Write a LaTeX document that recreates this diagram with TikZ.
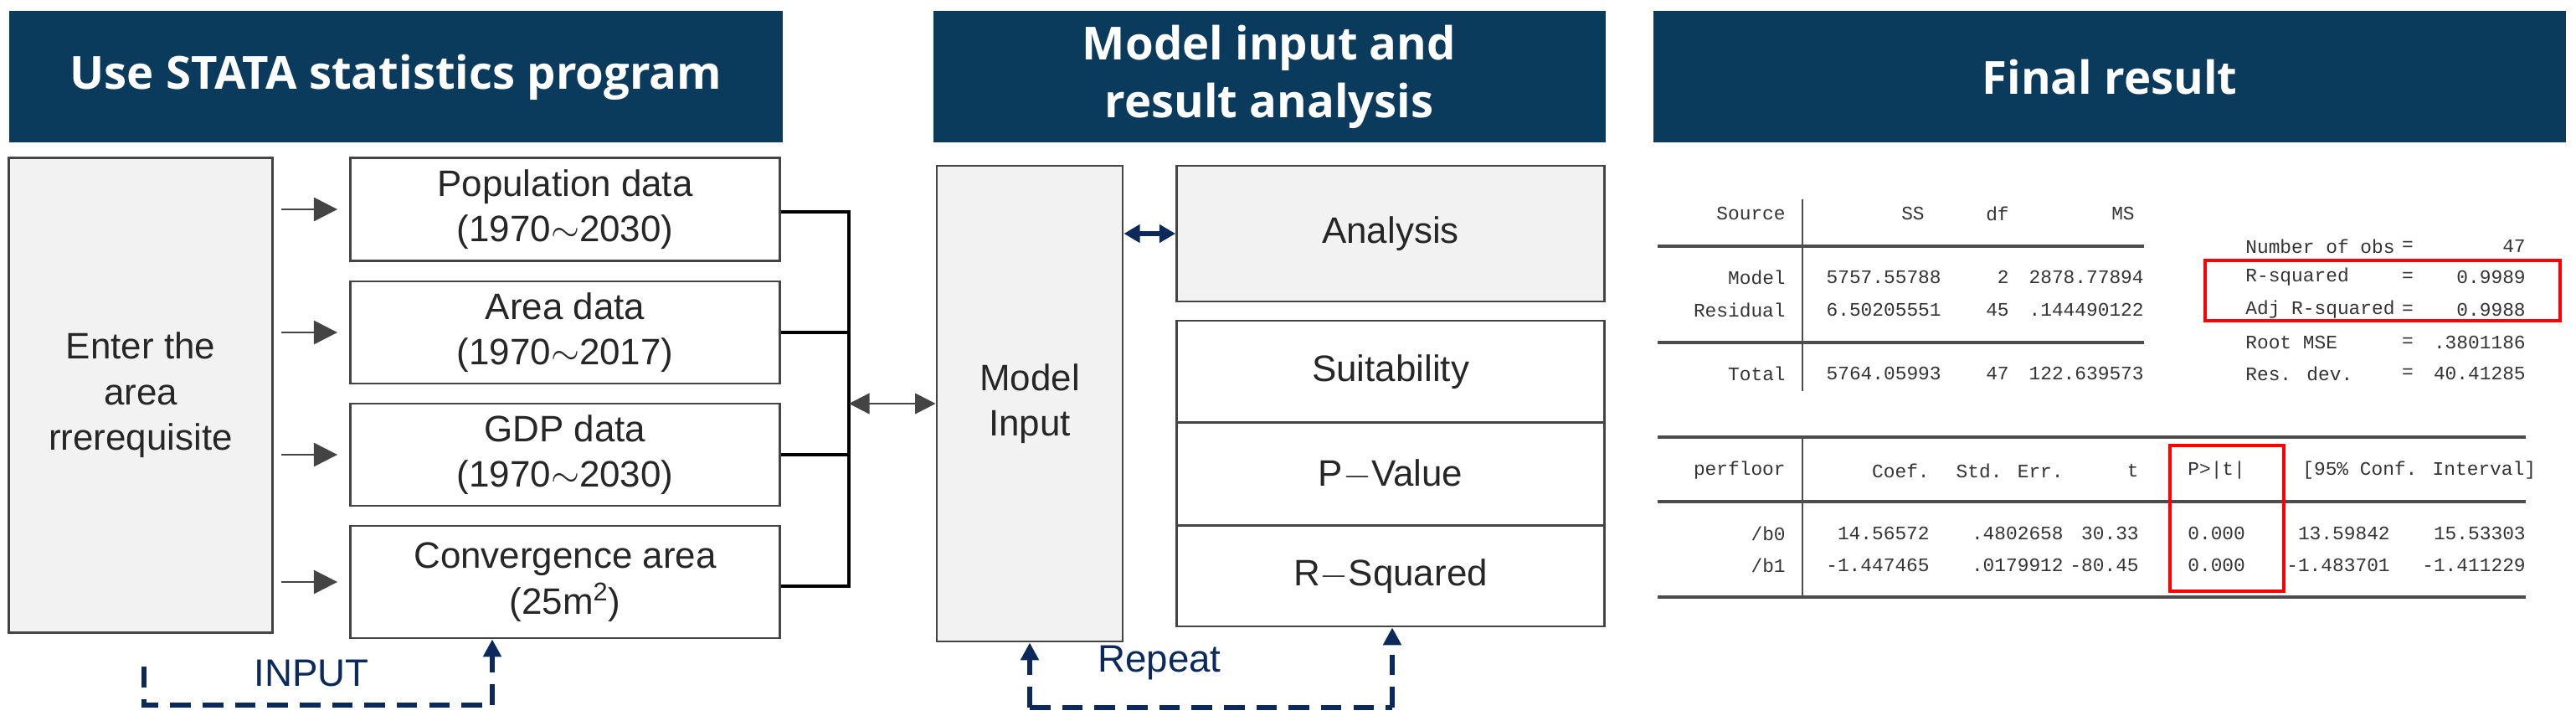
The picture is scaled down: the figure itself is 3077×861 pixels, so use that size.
\documentclass[tikz,border=0pt]{standalone}
\usepackage{fontspec}
\setmainfont{Liberation Sans}
\newfontfamily\hdr{Open Sans}
\newfontfamily\mono{Liberation Mono}
\usetikzlibrary{arrows.meta}
\definecolor{navy}{HTML}{0A3A5C}
\definecolor{dnavy}{HTML}{0B2A5B}
\definecolor{bx}{HTML}{F2F2F2}
\definecolor{bd}{HTML}{444444}
\def\u{0.02cm}
\begin{document}
\begin{tikzpicture}[x=0.02cm,y=-0.02cm,
 header/.style={fill=navy,text=white,font=\hdr\bfseries\fontsize{31}{39}\selectfont,align=center,inner sep=0},
 box/.style={draw=bd,line width=1.6pt,align=center,inner sep=0,font=\fontsize{25}{31}\selectfont,text=black!85},
 gbox/.style={box,fill=bx},
 arr/.style={-{Triangle[length=16pt,width=16pt]},draw=bd,line width=1.4pt},
 dsh/.style={dnavy,line width=3pt,dash pattern=on 14pt off 8pt},
 dtip/.style={-{Triangle[length=12pt,width=12pt]}},
 mt/.style={font=\mono\fontsize{13}{15}\selectfont,inner sep=0,text=black!80},
 red/.style={draw=red,line width=2pt}]
\useasboundingbox (0,0) rectangle (3077,861);
% headers
\node[header,minimum width=924*\u,minimum height=157*\u] (h1) at (473,92) {Use STATA statistics program};
\node[header,minimum width=803*\u,minimum height=157*\u] (h2) at (1516,92) {Model input and\\result analysis};
\node[header,minimum width=1090*\u,minimum height=157*\u] (h3) at (2520,92) {Final result};
% left column
\node[gbox,minimum width=315*\u,minimum height=567*\u] (ent) at (168,472) {Enter the\\area\\rrerequisite};
\node[box,minimum width=513*\u,minimum height=123*\u] (pop) at (675,250) {Population data\\(1970$\sim$2030)};
\node[box,minimum width=513*\u,minimum height=122*\u] (area) at (675,397) {Area data\\(1970$\sim$2017)};
\node[box,minimum width=513*\u,minimum height=122*\u] (gdp) at (675,543) {GDP data\\(1970$\sim$2030)};
\node[box,minimum width=513*\u,minimum height=134*\u] (conv) at (675,695) {Convergence area\\(25m\textsuperscript{2})};
\foreach \n in {pop,area,gdp,conv}{\coordinate (s\n) at (336,0 |- \n.west); \draw[arr] (s\n) -- ([xshift=-8pt]\n.west);}
\coordinate (bt) at (1014,253); \coordinate (bb) at (1014,700); \coordinate (bm) at (1014,482);
\draw[line width=2pt] (pop.east|-bt) -- (bt) -- (bb) -- (conv.east|-bb);
\draw[line width=2pt] (area.east) -- (area.east-|bt);
\draw[line width=2pt] (gdp.east) -- (gdp.east-|bt);
% middle
\node[gbox,minimum width=222*\u,minimum height=568*\u] (mi) at (1230,482) {Model\\Input};
\draw[arr,{Triangle[length=14pt,width=14pt]}-{Triangle[length=14pt,width=14pt]}] (bm) -- (mi.west|-bm);
\node[gbox,minimum width=511*\u,minimum height=162*\u] (an) at (1661,279) {Analysis};
\node[box,minimum width=511*\u,minimum height=122*\u] (su) at (1661,444) {Suitability};
\node[box,minimum width=511*\u,minimum height=123*\u] (pv) at (1661,566) {P$-$Value};
\node[box,minimum width=511*\u,minimum height=120*\u] (rs) at (1661,688) {R$-$Squared};
\draw[dnavy,line width=3pt,{Triangle[length=11pt,width=12pt]}-{Triangle[length=11pt,width=12pt]}] (mi.east|-an) -- (an.west);
% INPUT loop
\coordinate (i1) at (172,796); \coordinate (i2) at (172,842); \coordinate (i3) at (588,842);
\draw[dsh] (i1) -- (i2) -- (i3);
\draw[dsh,dtip] (i3) -- (conv.south-|i3);
\node[text=dnavy,font=\fontsize{26}{30}\selectfont] (inp) at (372,804) {INPUT};
% Repeat loop
\coordinate (r1) at (1230,845); \coordinate (r2) at (1663,845);
\draw[dsh,dtip] (r1) -- (mi.south-|r1);
\draw[dsh] (r1) -- (r2);
\draw[dsh,dtip] (r2) -- (rs.south-|r2);
\node[text=dnavy,font=\fontsize{26}{30}\selectfont] (rep) at (1385,792) {Repeat};
% table 1
\draw[line width=1pt,black!70] (2153,238) -- (2153,467);
\draw[line width=2.5pt,black!70] (1980,294) -- (2561,294);
\draw[line width=2.5pt,black!70] (1980,409) -- (2561,409);
\node[mt,anchor=east] (t1) at (2133,255) {Source};
\node[mt,anchor=east] (t2) at (2299,255) {SS};
\node[mt,anchor=east] (t3) at (2400,255) {df};
\node[mt,anchor=east] (t4) at (2550,255) {MS};
\node[mt,anchor=east] (t5) at (2133,331) {Model};
\node[mt,anchor=east] (t6) at (2319,331) {5757.55788};
\node[mt,anchor=east] (t7) at (2400,331) {2};
\node[mt,anchor=east] (t8) at (2561,331) {2878.77894};
\node[mt,anchor=east] (t9) at (2133,370) {Residual};
\node[mt,anchor=east] (t10) at (2319,370) {6.50205551};
\node[mt,anchor=east] (t11) at (2400,370) {45};
\node[mt,anchor=east] (t12) at (2561,370) {.144490122};
\node[mt,anchor=east] (t13) at (2133,446) {Total};
\node[mt,anchor=east] (t14) at (2319,446) {5764.05993};
\node[mt,anchor=east] (t15) at (2400,446) {47};
\node[mt,anchor=east] (t16) at (2561,446) {122.639573};
\foreach \y/\l/\v [count=\i] in {294/Number of obs/47,331/R-squared/0.9989,370/Adj R-squared/0.9988,409/Root MSE/.3801186,446/Res. dev./40.41285}{
 \node[mt,anchor=west] (sl\i) at (2682,\y) {\l};
 \node[mt] (se\i) at (2876,\y) {=};
 \node[mt,anchor=east] (sv\i) at (3017,\y) {\v};}
\node[red,minimum width=424*\u,minimum height=72*\u,inner sep=0] (rb1) at (2846,347) {};
% table 2
\draw[line width=2.5pt,black!70] (1980,522) -- (3017,522);
\draw[line width=2.5pt,black!70] (1980,599) -- (3017,599);
\draw[line width=2.5pt,black!70] (1980,713) -- (3017,713);
\draw[line width=1pt,black!70] (2153,522) -- (2153,713);
\node[mt,anchor=east] at (2133,562) {perfloor};
\node[mt,anchor=east] at (2305,562) {Coef.};
\node[mt,anchor=east] at (2465,562) {Std. Err.};
\node[mt,anchor=east] at (2555,562) {t};
\node[mt,anchor=west] at (2613,562) {P>|t|};
\node[mt,anchor=west] at (2750,562) {[95\% Conf. Interval]};
\foreach \y/\b/\c/\d/\e/\f in {637/{/b0}/14.56572/.4802658/30.33/0.000,675/{/b1}/-1.447465/.0179912/-80.45/0.000}{
 \node[mt,anchor=east] at (2133,\y) {\b};
 \node[mt,anchor=east] at (2305,\y) {\c};
 \node[mt,anchor=east] at (2465,\y) {\d};
 \node[mt,anchor=east] at (2555,\y) {\e};
 \node[mt,anchor=west] at (2613,\y) {\f};}
\node[mt,anchor=east] at (2855,637) {13.59842};
\node[mt,anchor=east] at (3017,637) {15.53303};
\node[mt,anchor=east] at (2855,675) {-1.483701};
\node[mt,anchor=east] at (3017,675) {-1.411229};
\node[red,minimum width=136*\u,minimum height=174*\u,inner sep=0] (rb2) at (2660,619) {};
\end{tikzpicture}
\end{document}
